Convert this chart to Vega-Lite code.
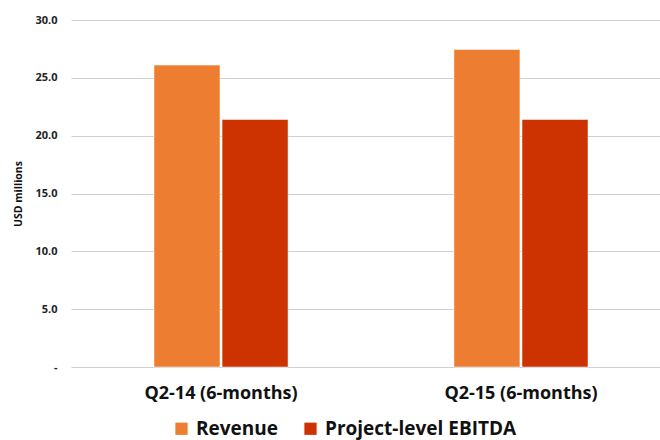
{
  "$schema": "https://vega.github.io/schema/vega-lite/v6.json",
  "autosize": "none",
  "width": 589,
  "height": 347,
  "padding": {"left": 71, "top": 20, "right": 0, "bottom": 73},
  "background": "white",
  "data": {
    "values": [
      {"period": "Q2-14 (6-months)", "series": "Revenue", "value": 26.1},
      {"period": "Q2-14 (6-months)", "series": "Project-level EBITDA", "value": 21.4},
      {"period": "Q2-15 (6-months)", "series": "Revenue", "value": 27.45},
      {"period": "Q2-15 (6-months)", "series": "Project-level EBITDA", "value": 21.4}
    ]
  },
  "config": {
    "view": {"stroke": null},
    "font": "Open Sans"
  },
  "mark": {"type": "bar", "stroke": "#ffffff", "strokeOpacity": 0.5, "strokeWidth": 1},
  "encoding": {
    "x": {
      "field": "period",
      "type": "nominal",
      "sort": null,
      "scale": {"range": [0, 600], "paddingInner": 0.553, "paddingOuter": 0.2767},
      "axis": {
        "title": null,
        "labelAngle": 0,
        "domain": false,
        "ticks": false,
        "labelFont": "Open Sans",
        "labelFontWeight": "bold",
        "labelFontSize": 18,
        "labelColor": "#111111",
        "labelPadding": 17,
        "labelLimit": 0
      }
    },
    "xOffset": {
      "field": "series",
      "type": "nominal",
      "sort": ["Revenue", "Project-level EBITDA"],
      "scale": {"paddingInner": 0.03}
    },
    "y": {
      "field": "value",
      "type": "quantitative",
      "scale": {"domain": [0, 30], "nice": false},
      "axis": {
        "title": "USD millions",
        "titleFont": "Open Sans",
        "titleFontWeight": "bold",
        "titleFontSize": 10.5,
        "titleColor": "#111111",
        "titlePadding": 11,
        "values": [0, 5, 10, 15, 20, 25, 30],
        "labelExpr": "datum.value == 0 ? '-' : format(datum.value, '.1f')",
        "labelFont": "Open Sans",
        "labelFontWeight": "bold",
        "labelFontSize": 11,
        "labelColor": "#222222",
        "labelPadding": 14,
        "domain": false,
        "ticks": false,
        "grid": true,
        "gridColor": "#d0d0d0",
        "gridWidth": 1.2
      }
    },
    "color": {
      "field": "series",
      "type": "nominal",
      "sort": ["Revenue", "Project-level EBITDA"],
      "scale": {"domain": ["Revenue", "Project-level EBITDA"], "range": ["#ED7D31", "#CC3300"]},
      "legend": {
        "title": null,
        "orient": "none",
        "direction": "horizontal",
        "legendX": 101,
        "legendY": 399,
        "symbolType": "square",
        "symbolSize": 150,
        "symbolStrokeWidth": 0,
        "labelFont": "Open Sans",
        "labelFontWeight": "bold",
        "labelFontSize": 19,
        "labelColor": "#111111",
        "labelLimit": 0,
        "columnPadding": 22,
        "labelOffset": 5
      }
    }
  }
}
